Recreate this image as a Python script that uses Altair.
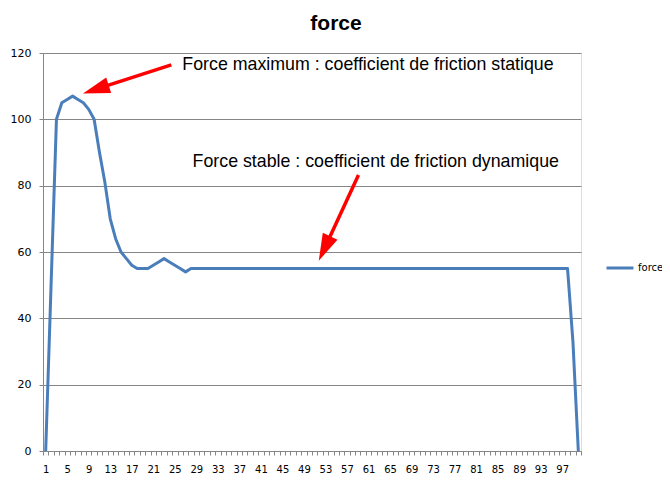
import altair as alt
import pandas as pd

# ---- data ----
categories = list(range(1, 101))
force_values = [0, 50, 100, 105, 106, 107, 106, 105, 103, 100,
                90, 81, 70, 64, 60, 58, 56, 55, 55, 55,
                56, 57, 58, 57, 56, 55, 54, 55] + [55] * 70 + [33, 0]
series_name = ["force"] * len(categories)

x_label_values = list(range(1, 98, 4))
x_tick_values = [i + 0.5 for i in range(0, 101)]
y_tick_values = [0, 20, 40, 60, 80, 100, 120]

note_texts = ["Force maximum : coefficient de friction statique",
              "Force stable : coefficient de friction dynamique"]
note_x = [26.4, 28.3]
note_y = [116.4, 87.1]

arrow_tail_x = [24.35, 59.14]
arrow_tail_y = [116.4, 83.2]
arrow_shaft_end_x = [10.23, 52.78]
arrow_shaft_end_y = [109.05, 60.93]
arrow_tip_x = [7.93, 51.76]
arrow_tip_y = [107.8, 57.37]
arrow_angle = [252.2, 204.9]

# ---- frames ----
df = pd.DataFrame({"x": categories, "y": force_values, "series": series_name})
notes = pd.DataFrame({"x": note_x, "y": note_y, "text": note_texts})
shafts = pd.DataFrame({"x": arrow_tail_x, "y": arrow_tail_y,
                       "x2": arrow_shaft_end_x, "y2": arrow_shaft_end_y})
heads = pd.DataFrame({"x": arrow_tip_x, "y": arrow_tip_y, "angle": arrow_angle})

GRAY = "#868686"

x_axis = alt.Axis(
    values=x_tick_values + x_label_values,
    labelExpr="datum.value % 1 == 0 ? datum.label : ''",
    tickOpacity={"condition": {"test": "datum.value % 1 == 0", "value": 0}, "value": 1},
    tickSize=4, labelPadding=9, grid=False, title=None,
    labelFont="DejaVu Sans", labelFontSize=10, labelColor="#000000",
    domainColor=GRAY, tickColor=GRAY, labelOverlap=False, labelFlush=False,
)
y_axis = alt.Axis(
    values=y_tick_values, tickSize=4, labelPadding=8, title=None,
    grid=True, gridColor=GRAY, domainColor=GRAY, tickColor=GRAY,
    labelFont="DejaVu Sans", labelFontSize=11, labelColor="#000000",
)

X = alt.X("x:Q", scale=alt.Scale(domain=[0.5, 100.5], nice=False, zero=False), axis=x_axis)
Y = alt.Y("y:Q", scale=alt.Scale(domain=[0, 120], nice=False), axis=y_axis)

line = alt.Chart(df).mark_line(strokeWidth=3, strokeJoin="round").encode(
    x=X, y=Y,
    color=alt.Color(
        "series:N",
        scale=alt.Scale(domain=["force"], range=["#4A7EBB"]),
        legend=alt.Legend(
            title=None, orient="none", legendX=562, legendY=200,
            symbolType="stroke", symbolSize=729, symbolStrokeWidth=3,
            labelFont="DejaVu Sans", labelFontSize=10, labelColor="#000000",
            labelOffset=3, padding=0,
        ),
    ),
)

text = alt.Chart(notes).mark_text(
    align="left", baseline="middle", font="Liberation Sans", fontSize=17.8, color="#000000"
).encode(x=X, y=Y, text="text:N")

shaft = alt.Chart(shafts).mark_rule(color="#FF0000", strokeWidth=3.5).encode(
    x=X, y=Y, x2="x2:Q", y2="y2:Q"
)

head = alt.Chart(heads).mark_point(
    shape="M0,0 L0.3,1 L-0.3,1 Z", size=2916, filled=True,
    color="#FF0000", opacity=1, strokeWidth=0,
).encode(x=X, y=Y, angle=alt.Angle("angle:Q", scale=None))

chart = alt.layer(line, shaft, head, text).properties(
    width=538, height=398,
    padding={"left": 35, "top": 45, "right": 81, "bottom": 28},
    autosize="none",
    title=alt.TitleParams(
        "force", font="Liberation Sans", fontSize=21, fontWeight="bold",
        color="#000000", anchor="middle", baseline="alphabetic", offset=23, dx=24, dy=27,
    ),
).configure_view(stroke=None).configure(background="white")

chart.save("out.html", embed_options={"renderer": "svg", "actions": False})
